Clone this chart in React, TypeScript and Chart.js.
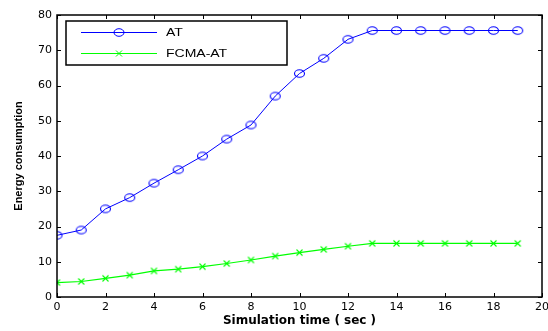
import React, { useEffect, useRef } from "react";
import { Chart, registerables } from "chart.js";

Chart.register(...registerables);

const timeSec = [0, 1, 2, 3, 4, 5, 6, 7, 8, 9, 10, 11, 12, 13, 14, 15, 16, 17, 18, 19];
const atValues = [17.5, 19.0, 25.0, 28.2, 32.3, 36.1, 40.0, 44.8, 48.8, 57.0, 63.4, 67.7, 73.1, 75.6, 75.6, 75.6, 75.6, 75.6, 75.6, 75.6];
const fcmaAtValues = [4.1, 4.4, 5.3, 6.2, 7.4, 7.9, 8.6, 9.5, 10.5, 11.6, 12.6, 13.5, 14.4, 15.2, 15.2, 15.2, 15.2, 15.2, 15.2, 15.2];
const seriesNames = ["AT", "FCMA-AT"];
const xTickValues = [0, 2, 4, 6, 8, 10, 12, 14, 16, 18, 20];
const yTickValues = [0, 10, 20, 30, 40, 50, 60, 70, 80];
const xTitle = "Simulation time ( sec )";
const yTitle = "Energy consumption";

const BLUE = "#0000ff";
const GREEN = "#00ff00";

function makeMarker(kind: string, color: string) {
  const c = document.createElement("canvas");
  c.width = 13;
  c.height = 11;
  const g = c.getContext("2d")!;
  g.strokeStyle = color;
  g.lineWidth = 1.1;
  g.beginPath();
  if (kind === "circle") {
    g.ellipse(6.5, 5.5, 5, 3.8, 0, 0, Math.PI * 2);
  } else {
    g.moveTo(3.5, 2.5);
    g.lineTo(9.5, 8.5);
    g.moveTo(9.5, 2.5);
    g.lineTo(3.5, 8.5);
  }
  g.stroke();
  return c;
}

const boxPlugin = {
  id: "matlabBox",
  afterDraw(chart: any) {
    const { ctx, chartArea } = chart;
    const { left, right, top, bottom } = chartArea;
    const xs = chart.scales.x;
    const ys = chart.scales.y;
    ctx.save();
    ctx.strokeStyle = "#000";
    ctx.lineWidth = 1;
    const tl = 4;
    ctx.beginPath();
    xs.ticks.forEach((t: any) => {
      const px = Math.round(xs.getPixelForValue(t.value)) + 0.5;
      ctx.moveTo(px, bottom);
      ctx.lineTo(px, bottom - tl);
      ctx.moveTo(px, top);
      ctx.lineTo(px, top + tl);
    });
    ys.ticks.forEach((t: any) => {
      const py = Math.round(ys.getPixelForValue(t.value)) + 0.5;
      ctx.moveTo(left, py);
      ctx.lineTo(left + tl, py);
      ctx.moveTo(right, py);
      ctx.lineTo(right - tl, py);
    });
    ctx.stroke();
    ctx.lineWidth = 1.5;
    ctx.strokeRect(left, top, right - left, bottom - top);

    // legend
    const lx = 66, ly = 21, lw = 221, lh = 44;
    ctx.fillStyle = "#fff";
    ctx.fillRect(lx, ly, lw, lh);
    ctx.lineWidth = 1.5;
    ctx.strokeStyle = "#000";
    ctx.strokeRect(lx, ly, lw, lh);
    const rows = [
      { name: seriesNames[0], color: BLUE, y: 32.5, marker: "circle" },
      { name: seriesNames[1], color: GREEN, y: 53.5, marker: "cross" },
    ];
    rows.forEach((r) => {
      ctx.strokeStyle = r.color;
      ctx.lineWidth = 1;
      ctx.beginPath();
      ctx.moveTo(81, r.y);
      ctx.lineTo(157, r.y);
      ctx.stroke();
      ctx.beginPath();
      if (r.marker === "circle") {
        ctx.ellipse(119, r.y, 5, 3.8, 0, 0, Math.PI * 2);
      } else {
        ctx.moveTo(116, r.y - 3);
        ctx.lineTo(122, r.y + 3);
        ctx.moveTo(122, r.y - 3);
        ctx.lineTo(116, r.y + 3);
      }
      ctx.stroke();
      ctx.save();
      ctx.translate(166, r.y);
      ctx.scale(1.4, 1);
      ctx.fillStyle = "#000";
      ctx.font = "10px 'Liberation Sans', Arial, sans-serif";
      ctx.textBaseline = "middle";
      ctx.textAlign = "left";
      ctx.fillText(r.name, 0, 1);
      ctx.restore();
    });
    ctx.restore();
  },
};

export default function App() {
  const ref = useRef<HTMLCanvasElement | null>(null);
  useEffect(() => {
    document.body.style.margin = "0";
    const canvas = ref.current!;
    const circleMarker = makeMarker("circle", BLUE);
    const crossMarker = makeMarker("cross", GREEN);
    const chart = new Chart(canvas, {
      type: "line",
      data: {
        datasets: [
          {
            label: seriesNames[0],
            data: timeSec.map((t, i) => ({ x: t, y: atValues[i] })),
            borderColor: BLUE,
            backgroundColor: "transparent",
            borderWidth: 1,
            pointStyle: circleMarker,
            pointRadius: 5,
            tension: 0,
          },
          {
            label: seriesNames[1],
            data: timeSec.map((t, i) => ({ x: t, y: fcmaAtValues[i] })),
            borderColor: GREEN,
            backgroundColor: "transparent",
            borderWidth: 1.2,
            pointStyle: crossMarker,
            pointRadius: 4,
            tension: 0,
          },
        ],
      },
      options: {
        animation: false,
        responsive: false,
        devicePixelRatio: 1,
        layout: { padding: { top: 15, right: 3, left: 0, bottom: 0 } },
        plugins: { legend: { display: false }, tooltip: { enabled: false } },
        scales: {
          x: {
            type: "linear",
            min: 0,
            max: 20,
            afterBuildTicks: (s: any) => {
              s.ticks = xTickValues.map((v) => ({ value: v }));
            },
            afterFit: (s: any) => {
              s.height = 34;
              s.paddingLeft = 0;
              s.paddingRight = 0;
            },
            grid: { display: false, drawTicks: false },
            border: { display: false },
            ticks: {
              padding: 4,
              color: "#000",
              maxRotation: 0,
              autoSkip: false,
              font: { family: "'DejaVu Sans', sans-serif", size: 11 },
            },
            title: {
              display: true,
              text: xTitle,
              color: "#000",
              padding: { top: 0, bottom: 3 },
              font: { family: "'DejaVu Sans', sans-serif", size: 12, weight: "bold" },
            },
          },
          y: {
            type: "linear",
            min: 0,
            max: 80,
            afterBuildTicks: (s: any) => {
              s.ticks = yTickValues.map((v) => ({ value: v }));
            },
            afterFit: (s: any) => {
              s.width = 57;
              s.paddingTop = 0;
              s.paddingBottom = 0;
            },
            grid: { display: false, drawTicks: false },
            border: { display: false },
            ticks: {
              padding: 5,
              color: "#000",
              autoSkip: false,
              font: { family: "'DejaVu Sans', sans-serif", size: 11 },
            },
            title: {
              display: true,
              text: yTitle,
              color: "#000",
              padding: { top: 12, bottom: 0 },
              font: { family: "'Liberation Sans', Arial, sans-serif", size: 11, weight: "bold" },
            },
          },
        },
      },
      plugins: [boxPlugin],
    } as any);
    return () => chart.destroy();
  }, []);
  return (
    <div style={{ position: "fixed", left: 0, top: 0, width: 548, height: 331, background: "#fff" }}>
      <canvas ref={ref} width={548} height={331} />
    </div>
  );
}
